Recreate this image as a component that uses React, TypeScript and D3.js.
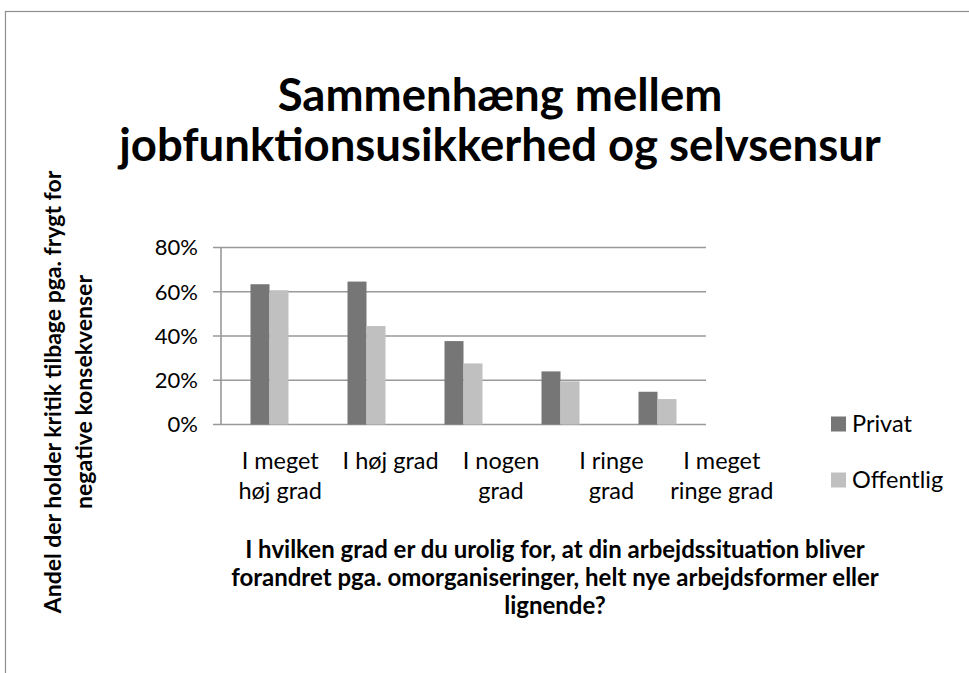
import { scaleBand, scaleLinear, format } from "d3";

const categories = [
  ["I meget", "høj grad"],
  ["I høj grad"],
  ["I nogen", "grad"],
  ["I ringe", "grad"],
  ["I meget", "ringe grad"],
];
const seriesNames = ["Privat", "Offentlig"];
const privat = [0.634, 0.646, 0.377, 0.24, 0.148];
const offentlig = [0.607, 0.445, 0.276, 0.195, 0.115];
const yTicks = [0, 0.2, 0.4, 0.6, 0.8];
const titleLines = ["Sammenhæng mellem", "jobfunktionsusikkerhed og selvsensur"];
const yTitleLines = ["Andel der holder kritik tilbage pga. frygt for", "negative konsekvenser"];
const xTitleLines = [
  "I hvilken grad er du urolig for, at din arbejdssituation bliver",
  "forandret pga. omorganiseringer, helt nye arbejdsformer eller",
  "lignende?",
];

const colors = ["#767676", "#c0c0c0"];
const font = "Lato, 'Open Sans', sans-serif";

export default function App() {
  const width = 969;
  const height = 673;
  const plot = { left: 221, right: 706, top: 247.5, bottom: 424.5 };
  const keys = categories.map((c) => c.join(" "));

  const x = scaleBand<string>().domain(keys).range([plot.left, plot.right]);
  // Excel spreads the wrapped labels wider than the bar slots
  const xLabel = scaleBand<string>().domain(keys).range([225, 777]);
  const barW = 19;
  const x1 = scaleBand<string>().domain(seriesNames).range([-barW, barW]);
  const y = scaleLinear().domain([0, 0.8]).range([plot.bottom, plot.top]);
  const pct = format(".0%");
  const values = [privat, offentlig];

  return (
    <svg
      width={width}
      height={height}
      style={{ position: "absolute", left: 0, top: 0, background: "#fff" }}
      fontFamily={font}
    >
      <rect x={5.5} y={11.5} width={1000} height={700} fill="#fff" stroke="#8e8e8e" strokeWidth={1.2} />

      {/* title */}
      <g fontWeight="bold" fontSize={45.5} textAnchor="middle" fill="#000">
        {titleLines.map((t, i) => (
          <text key={i} x={500} y={111 + i * 50}>{t}</text>
        ))}
      </g>

      {/* gridlines + y ticks */}
      {yTicks.map((t) => (
        <g key={t}>
          <line x1={plot.left - 8} x2={plot.right} y1={y(t)} y2={y(t)} stroke="#999" strokeWidth={1.6} />
          <text x={198} y={y(t)} dy="0.36em" textAnchor="end" fontSize={22} fill="#000">
            {pct(t)}
          </text>
        </g>
      ))}
      <line x1={plot.left} x2={plot.left} y1={plot.top} y2={plot.bottom} stroke="#999" strokeWidth={1.6} />

      {/* bars */}
      {keys.map((k, i) => (
        <g key={k} transform={`translate(${x(k)! + x.bandwidth() / 2},0)`}>
          {seriesNames.map((s, j) => (
            <rect
              key={s}
              x={x1(s)}
              width={x1.bandwidth()}
              y={y(values[j][i])}
              height={plot.bottom - y(values[j][i])}
              fill={colors[j]}
            />
          ))}
        </g>
      ))}

      {/* category labels */}
      <g fontSize={23.5} textAnchor="middle" fill="#000">
        {categories.map((lines, i) => (
          <text key={i} x={xLabel(keys[i])! + xLabel.bandwidth() / 2} y={469}>
            {lines.map((l, k) => (
              <tspan key={k} x={xLabel(keys[i])! + xLabel.bandwidth() / 2} dy={k === 0 ? 0 : 30}>{l}</tspan>
            ))}
          </text>
        ))}
      </g>

      {/* legend */}
      {seriesNames.map((s, j) => (
        <g key={s} transform={`translate(831,${424 + j * 56})`}>
          <rect x={0} y={-7.5} width={15} height={15} fill={colors[j]} />
          <text x={21} y={0} dy="0.36em" fontSize={23.5} fill="#000">{s}</text>
        </g>
      ))}

      {/* x axis title */}
      <g fontWeight="bold" fontSize={24} textAnchor="middle" fill="#000">
        {xTitleLines.map((t, i) => (
          <text key={i} x={555} y={558 + i * 28}>{t}</text>
        ))}
      </g>

      {/* y axis title */}
      <g fontWeight="bold" fontSize={23} textAnchor="middle" fill="#000">
        {yTitleLines.map((t, i) => (
          <text key={i} transform={`translate(${61 + i * 31},392) rotate(-90)`}>{t}</text>
        ))}
      </g>
    </svg>
  );
}
